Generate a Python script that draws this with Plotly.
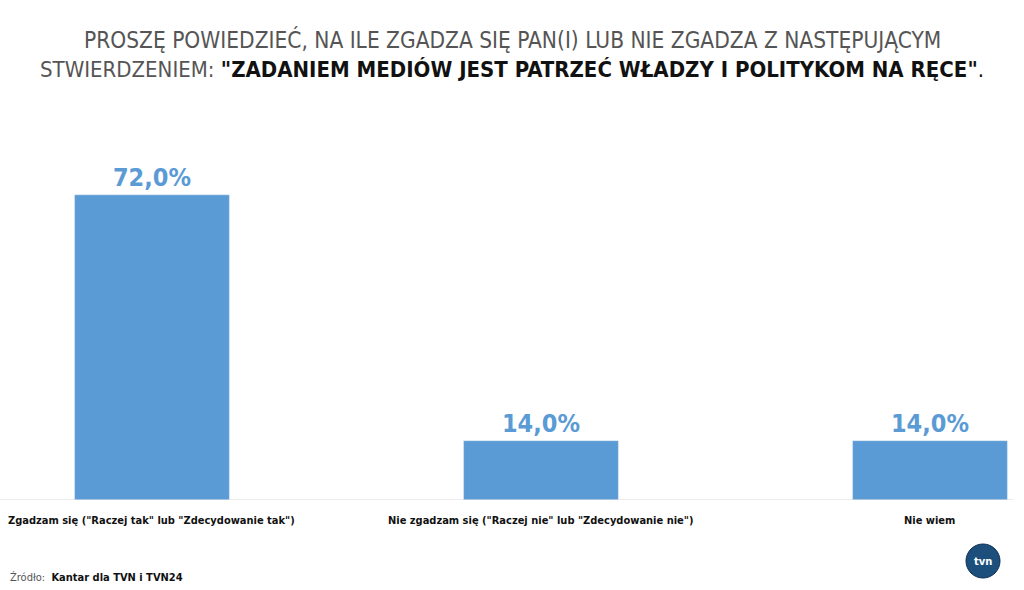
import plotly.graph_objects as go

categories = ['Zgadzam się ("Raczej tak" lub "Zdecydowanie tak")',
              'Nie zgadzam się ("Raczej nie" lub "Zdecydowanie nie")',
              'Nie wiem']
values = [72.0, 14.0, 14.0]
value_labels = ["72,0%", "14,0%", "14,0%"]

BLUE = "#5b9bd5"
COND = "DejaVu Sans Condensed, sans-serif"
x_idx = list(range(len(categories)))

T, B = 110, 500  # plot area top/bottom in pixels
def py(p):
    return (B - p) / (B - T)

fig = go.Figure(go.Bar(
    x=x_idx, y=values, marker_color=BLUE, width=0.398,
    text=value_labels, textposition="outside", cliponaxis=False,
    textfont=dict(family=COND, size=25, color=BLUE, weight="bold"),
    hoverinfo="skip"))

annotations = [
    dict(xref="paper", yref="paper", x=0.5, y=py(40), xanchor="center", yanchor="middle",
         showarrow=False,
         text="PROSZĘ POWIEDZIEĆ, NA ILE ZGADZA SIĘ PAN(I) LUB NIE ZGADZA Z NASTĘPUJĄCYM",
         font=dict(family=COND, size=22.5, color="#555")),
    dict(xref="paper", yref="paper", x=0.5, y=py(70), xanchor="center", yanchor="middle",
         showarrow=False,
         text='<span style="color:#555">STWIERDZENIEM:</span> <b>"ZADANIEM MEDIÓW JEST PATRZEĆ WŁADZY I POLITYKOM NA RĘCE"</b>.',
         font=dict(family=COND, size=22, color="#111")),
    dict(xref="paper", yref="paper", x=8/1024, y=py(577), xanchor="left", yanchor="middle",
         showarrow=False,
         text='<span style="color:#555">Źródło:</span>  <b>Kantar dla TVN i TVN24</b>',
         font=dict(family=COND, size=11, color="#111")),
    dict(xref="paper", yref="paper", x=983/1024, y=py(561), xanchor="center", yanchor="middle",
         showarrow=False, text="<b>tvn</b>",
         font=dict(family="DejaVu Sans, sans-serif", size=10, color="white")),
]
for i, c in enumerate(categories):
    annotations.append(dict(xref="x", yref="paper", x=x_idx[i], y=py(520), xanchor="center",
                            yanchor="middle", showarrow=False, text=c,
                            font=dict(family=COND, size=11, color="#111", weight="bold")))

fig.update_layout(
    width=1024, height=590,
    margin=dict(l=0, r=0, t=T, b=590 - B),
    paper_bgcolor="white", plot_bgcolor="white",
    showlegend=False,
    xaxis=dict(range=[-0.3907, 2.2417], tickvals=x_idx, showticklabels=False,
               showgrid=False, zeroline=False, showline=False, ticks=""),
    yaxis=dict(range=[0, 92], visible=False),
    shapes=[dict(type="line", xref="paper", yref="y", x0=0, x1=0.99, y0=0, y1=0,
                 line=dict(color="#d9d9d9", width=1)),
            dict(type="circle", xref="paper", yref="paper", x0=966/1024, x1=1000/1024,
                 y0=py(578), y1=py(544), fillcolor="#1d4f7c", line=dict(color="#0f2f50", width=1))],
    annotations=annotations)

fig.write_html("out.html")
